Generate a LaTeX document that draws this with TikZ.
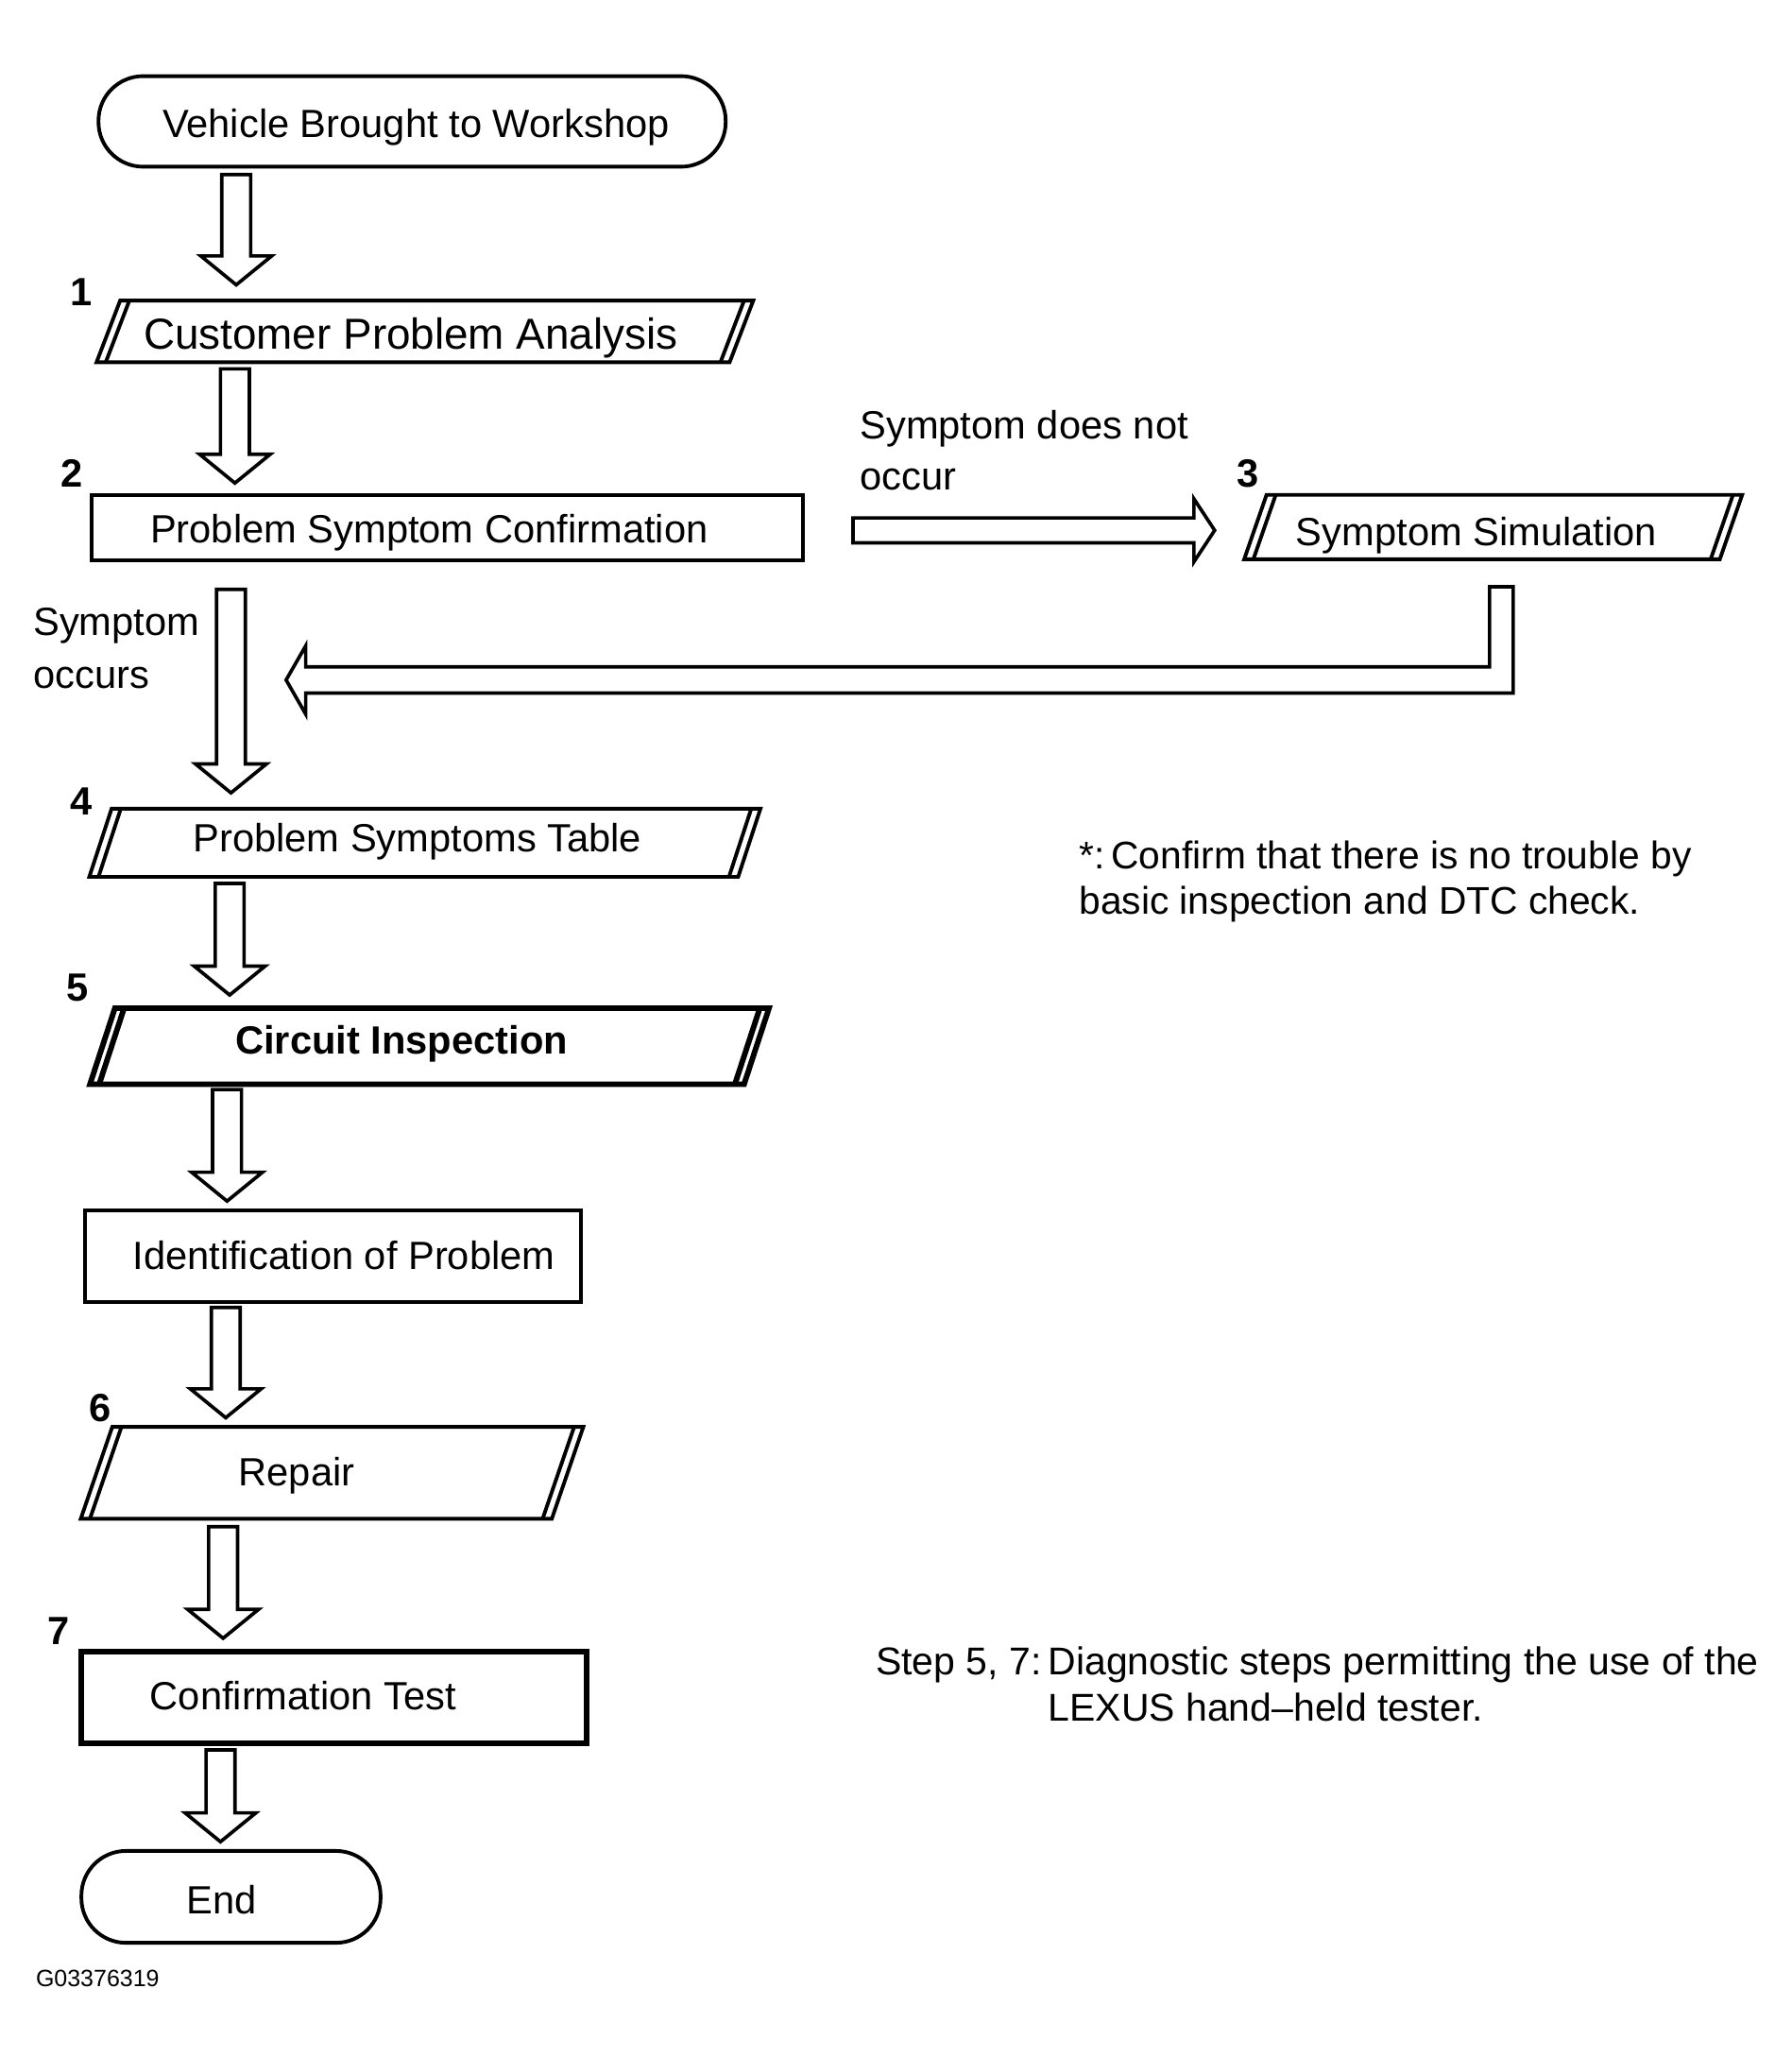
\documentclass[tikz,border=0pt]{standalone}
\usepackage{fontspec}
\setmainfont{Liberation Sans}
\usetikzlibrary{calc}
\newcommand\drawparallelbox[3]{%
  \draw[#3] ($(#1.north west)+(#2,0)$) -- ($(#1.north east)+(#2,0)$) -- ($(#1.south east)+(-#2,0)$) -- ($(#1.south west)+(-#2,0)$) -- cycle;
  \draw[#3] ($(#1.north west)+(#2+7,0)$) -- ($(#1.south west)+(-#2+7,0)$);
  \draw[#3] ($(#1.north east)+(#2-7,0)$) -- ($(#1.south east)+(-#2-7,0)$);
}
\tikzset{
  shapebox/.style={draw=none, inner sep=0pt, outer sep=0pt},
  rectbox/.style={draw=black, line width=1.6pt, inner sep=0pt, outer sep=0pt},
  thickrect/.style={draw=black, line width=2.4pt, inner sep=0pt, outer sep=0pt},
  term/.style={draw=black, line width=1.6pt, inner sep=0pt, outer sep=0pt, rounded corners=0.68cm},
  frameline/.style={draw=black, line width=1.6pt, line join=miter},
  thickframe/.style={draw=black, line width=2.4pt, line join=miter},
  lbl/.style={inner sep=0pt, font=\fontsize{17.07}{20}\selectfont, text height=12.2pt, text depth=0pt},
  biglbl/.style={inner sep=0pt, font=\fontsize{18.78}{22}\selectfont, text height=13.45pt, text depth=0pt},
  num/.style={inner sep=0pt, font=\fontsize{17.07}{20}\selectfont\bfseries, text height=12.2pt, text depth=0pt},
  note/.style={inner sep=0pt, anchor=base west},
  hollow down/.style={draw=black, line width=1.5pt, line join=miter, to path={
     let \p1=(\tikztostart), \p2=(\tikztotarget) in
     (\x1-6.26pt,\y1) -- (\x1-6.26pt,\y2+12.52pt) -- (\x1-15.36pt,\y2+12.52pt) -- (\x1,\y2)
     -- (\x1+15.36pt,\y2+12.52pt) -- (\x1+6.26pt,\y2+12.52pt) -- (\x1+6.26pt,\y1) -- cycle}},
  hollow right/.style={draw=black, line width=1.5pt, line join=miter, to path={
     let \p1=(\tikztostart), \p2=(\tikztotarget) in
     (\x1,\y1+5.4pt) -- (\x2-9pt,\y1+5.4pt) -- (\x2-9pt,\y1+13.66pt) -- (\x2,\y1)
     -- (\x2-9pt,\y1-13.66pt) -- (\x2-9pt,\y1-5.4pt) -- (\x1,\y1-5.4pt) -- cycle}},
  hollowline/.style={draw=black, line width=1.5pt, line join=miter},
}
\begin{document}
\begin{tikzpicture}[x=0.02cm,y=-0.02cm]
\fill[white] (0,0) rectangle (1365,1567);
\useasboundingbox (0,0) rectangle (1365,1567);

% ---- shapes ----
\node[term, minimum width=9.56cm, minimum height=1.38cm] (start) at (314,92.5) {};
\node[shapebox, minimum width=9.65cm, minimum height=0.94cm] (b1) at (323.75,252.5) {};
\node[rectbox, minimum width=10.84cm, minimum height=1.0cm] (b2) at (341,402) {};
\node[shapebox, minimum width=7.25cm, minimum height=0.98cm] (b3) at (1137.75,401.5) {};
\node[shapebox, minimum width=9.89cm, minimum height=1.04cm] (b4) at (323.75,642) {};
\node[shapebox, minimum width=9.97cm, minimum height=1.16cm] (b5) at (327.25,797) {};
\node[rectbox, minimum width=7.56cm, minimum height=1.4cm] (b6) at (254,957) {};
\node[shapebox, minimum width=7.18cm, minimum height=1.4cm] (b7) at (253,1122) {};
\node[thickrect, minimum width=7.7cm, minimum height=1.4cm] (b8) at (254.5,1293) {};
\node[term, minimum width=4.56cm, minimum height=1.4cm] (end) at (176,1445) {};

\drawparallelbox{b1}{9}{frameline}
\drawparallelbox{b3}{8.5}{frameline}
\drawparallelbox{b4}{8.5}{frameline}
\drawparallelbox{b5}{9.5}{thickframe}
\drawparallelbox{b7}{12}{frameline}

% ---- texts ----
\node[lbl] (t0) at (317,94) {Vehicle Brought to Workshop};
\node[biglbl] (t1) at (313,254) {Customer Problem Analysis};
\node[lbl] (t2) at (327,403) {Problem Symptom Confirmation};
\node[lbl] (t3) at (1125,405) {Symptom Simulation};
\node[lbl] (t4) at (318,638) {Problem Symptoms Table};
\node[lbl, font=\fontsize{17.07}{20}\selectfont\bfseries] (t5) at (306,792) {Circuit Inspection};
\node[lbl] (t6) at (262,956) {Identification of Problem};
\node[lbl] (t7) at (226,1121) {Repair};
\node[lbl] (t8) at (231,1292) {Confirmation Test};
\node[lbl] (t9) at (169,1447) {End};

% ---- step numbers ----
\node[num] (n1) at (62,222) {1};
\node[num] (n2) at (55,360) {2};
\node[num] (n3) at (951,360) {3};
\node[num] (n4) at (62,610) {4};
\node[num] (n5) at (59,752) {5};
\node[num] (n6) at (76,1072) {6};
\node[num] (n7) at (45,1242) {7};

% ---- side labels and notes ----
\node[note, font=\fontsize{17.07}{22.2}\selectfont] (sdn) at (655,334)
  {\begin{tabular}[t]{@{}l@{}}Symptom does not\\occur\end{tabular}};
\node[note, font=\fontsize{17.07}{22.8}\selectfont] (so) at (25,484)
  {\begin{tabular}[t]{@{}l@{}}Symptom\\occurs\end{tabular}};
\node[note, font=\fontsize{16.7}{19.4}\selectfont] (star) at (822,662)
  {\begin{tabular}[t]{@{}l@{}}*:\,Confirm that there is no trouble by\\basic inspection and DTC check.\end{tabular}};
\node[note, font=\fontsize{16.8}{19.9}\selectfont] (stepnote) at (667,1276)
  {\begin{tabular}[t]{@{}l@{\,}l@{}}Step 5, 7:&Diagnostic steps permitting the use of the\\ &LEXUS hand–held tester.\end{tabular}};
\node[note, font=\fontsize{10.24}{12}\selectfont] (code) at (27,1513.5) {G03376319};

% ---- arrow axes ----
\coordinate (ax1) at (180,0);
\coordinate (ax2) at (179,0);
\coordinate (ax3) at (176,0);
\coordinate (ax4) at (175,0);
\coordinate (ax5) at (173,0);
\coordinate (ax6) at (172,0);
\coordinate (ax7) at (170,0);
\coordinate (ax8) at (168,0);
\coordinate (rt) at (218,518);

% ---- connectors ----
\draw[hollow down] ($(start.south -| ax1)+(0,6)$) to ($(b1.north -| ax1)+(0,-12)$);
\draw[hollow down] ($(b1.south -| ax2)+(0,5)$) to ($(b2.north -| ax2)+(0,-9)$);
\draw[hollow down] ($(b2.south -| ax3)+(0,22)$) to ($(b4.north -| ax3)+(0,-12)$);
\draw[hollow down] ($(b4.south -| ax4)+(0,5)$) to ($(b5.north -| ax4)+(0,-10)$);
\draw[hollow down] ($(b5.south -| ax5)+(0,4)$) to ($(b6.north -| ax5)+(0,-7)$);
\draw[hollow down] ($(b6.south -| ax6)+(0,4)$) to ($(b7.north -| ax6)+(0,-7)$);
\draw[hollow down] ($(b7.south -| ax7)+(0,6)$) to ($(b8.north -| ax7)+(0,-10)$);
\draw[hollow down] ($(b8.south -| ax8)+(0,5)$) to ($(end.north -| ax8)+(0,-7)$);

\draw[hollow right] ($(b2.east)+(38,2)$) to ($(b3.west)+(-31,2.5)$);

\draw[hollowline] let \p1=($(b3.south)+(6.25,21)$), \p2=(rt) in
  (\x1-5.12pt,\y1) -- (\x1+5.12pt,\y1) -- (\x1+5.12pt,\y2-5.69pt)
  -- (\x2+8.5pt,\y2-5.69pt) -- (\x2+8.5pt,\y2-14.8pt) -- (\x2,\y2)
  -- (\x2+8.5pt,\y2+14.8pt) -- (\x2+8.5pt,\y2+5.69pt) -- (\x1-5.12pt,\y2+5.69pt) -- cycle;
\end{tikzpicture}
\end{document}
